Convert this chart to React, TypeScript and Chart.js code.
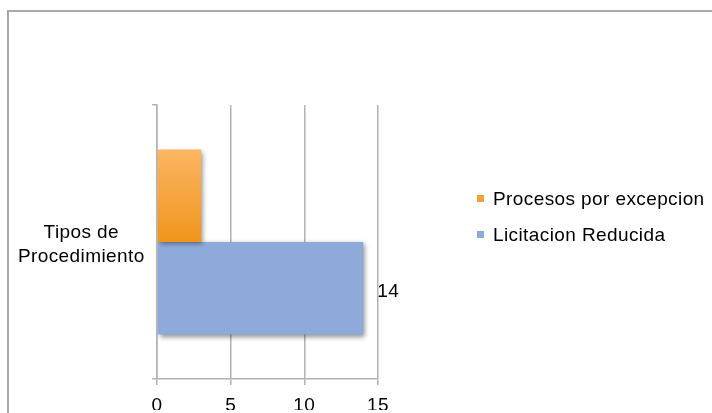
import React, { useEffect, useRef } from "react";
import { Chart, registerables } from "chart.js";

Chart.register(...registerables);

// ---- data ----
const categories: string[][] = [["Tipos de", "Procedimiento"]];
const seriesNames: string[] = ["Procesos por excepcion", "Licitacion Reducida"];
const procesosPorExcepcion: number[] = [3];
const licitacionReducida: number[] = [14];
const showValueLabel: boolean[] = [false, true];
const xMin = 0;
const xMax = 15;
const xStep = 5;

// ---- styles ----
const FONT = "'Liberation Sans', Arial, sans-serif";
const GRID = "#b2b2b2";
const orangeTop = "#fcb564";
const orangeBottom = "#ef951c";
const blue = "#8eaadb";
const legendColors = ["#f7a035", "#8eaadb"];

export default function App() {
  const ref = useRef<HTMLCanvasElement | null>(null);

  useEffect(() => {
    if (!ref.current) return;

    const deco = {
      id: "deco",
      beforeDraw(chart: any) {
        try {
          chart.ctx.letterSpacing = "0.4px";
        } catch (e) {}
      },
      beforeDatasetsDraw(chart: any) {
        const ctx = chart.ctx;
        const meta = chart.getDatasetMeta(0);
        meta.data.forEach((el: any) => {
          const top = el.y - el.height / 2;
          const bot = el.y + el.height / 2;
          const g = ctx.createLinearGradient(0, top, 0, bot);
          g.addColorStop(0, orangeTop);
          g.addColorStop(1, orangeBottom);
          el.options.backgroundColor = g;
        });
        ctx.save();
        ctx.shadowColor = "rgba(0,0,0,0.45)";
        ctx.shadowBlur = 5;
        ctx.shadowOffsetX = 2;
        ctx.shadowOffsetY = 2;
      },
      afterDatasetsDraw(chart: any) {
        const ctx = chart.ctx;
        ctx.restore();
        ctx.save();
        ctx.font = `19px ${FONT}`;
        ctx.fillStyle = "#000";
        ctx.textAlign = "left";
        ctx.textBaseline = "middle";
        chart.data.datasets.forEach((ds: any, i: number) => {
          if (!showValueLabel[i]) return;
          const m = chart.getDatasetMeta(i);
          m.data.forEach((el: any, j: number) => {
            ctx.fillText(String(ds.data[j]), el.x + 14, el.y + 3);
          });
        });
        ctx.restore();
      },
    };

    const chart = new Chart(ref.current, {
      type: "bar",
      data: {
        labels: categories as any,
        datasets: [
          {
            label: seriesNames[0],
            data: procesosPorExcepcion,
            backgroundColor: orangeBottom,
            borderWidth: 0,
            categoryPercentage: 0.675,
            barPercentage: 1.0,
          },
          {
            label: seriesNames[1],
            data: licitacionReducida,
            backgroundColor: blue,
            borderWidth: 0,
            categoryPercentage: 0.675,
            barPercentage: 1.0,
          },
        ],
      },
      options: {
        indexAxis: "y",
        animation: false,
        responsive: false,
        maintainAspectRatio: false,
        layout: { padding: { left: 8, top: 105, right: 334, bottom: 0 } },
        plugins: {
          legend: { display: false },
          tooltip: { enabled: false },
          title: { display: false },
        },
        scales: {
          x: {
            type: "linear",
            min: xMin,
            max: xMax,
            ticks: {
              stepSize: xStep,
              color: "#000",
              padding: 9,
              font: { family: FONT, size: 19 },
            },
            grid: {
              color: GRID,
              lineWidth: 1.5,
              tickLength: 6,
              drawTicks: true,
            },
            border: { display: true, color: GRID, width: 1.5 },
            afterFit(scale: any) {
              scale.height = 31;
            },
          },
          y: {
            type: "category",
            ticks: {
              color: "#000",
              crossAlign: "center",
              padding: 10,
              labelOffset: 3,
              font: { family: FONT, size: 19, lineHeight: 1.26 },
            },
            grid: {
              color: GRID,
              lineWidth: 1.5,
              drawOnChartArea: false,
              drawTicks: true,
              tickLength: 5,
              offset: true,
            },
            border: { display: true, color: GRID, width: 1.5 },
            afterFit(scale: any) {
              scale.width = 149;
            },
          },
        },
      },
      plugins: [deco],
    } as any);

    return () => chart.destroy();
  }, []);

  return (
    <div
      style={{
        position: "absolute",
        left: 0,
        top: 0,
        width: 712,
        height: 413,
        overflow: "hidden",
        background: "#fff",
        fontFamily: FONT,
      }}
    >
      <div
        style={{
          position: "absolute",
          left: 7,
          top: 10,
          width: 800,
          height: 500,
          border: "2px solid #a9a9a9",
          boxSizing: "border-box",
        }}
      />
      <canvas
        ref={ref}
        width={712}
        height={413}
        style={{ position: "absolute", left: 0, top: 0, width: 712, height: 413 }}
      />
      {seriesNames.map((name, i) => (
        <div key={name}>
          <div
            style={{
              position: "absolute",
              left: 477,
              top: 195 + i * 36,
              width: 7,
              height: 7,
              background: legendColors[i],
            }}
          />
          <div
            style={{
              position: "absolute",
              left: 493,
              top: 189 + i * 36,
              fontSize: 19,
              lineHeight: "19px",
              letterSpacing: "0.4px",
              color: "#000",
              whiteSpace: "nowrap",
            }}
          >
            {name}
          </div>
        </div>
      ))}
    </div>
  );
}
